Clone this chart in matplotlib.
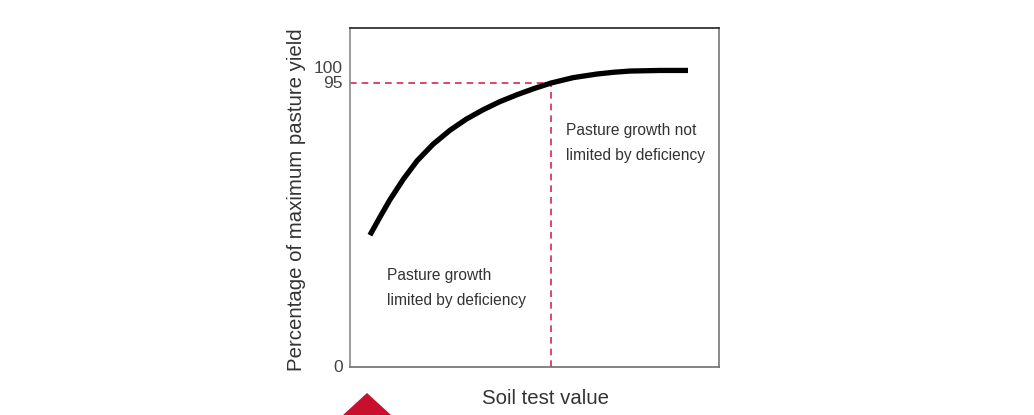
import matplotlib.pyplot as plt
import matplotlib.patches as patches

plt.rcParams['font.family'] = ['Liberation Sans', 'DejaVu Sans']

# curve (x: arbitrary soil test units, y: % of max yield)
soil_x = [5.4, 8.0, 10.8, 14.5, 18.2, 22.5, 27.1, 31.5, 36.0, 40.5, 45.3, 50.0, 54.5, 60.5, 66.9, 71.5, 75.9, 84.0, 91.6]
yield_y = [44.1, 49.9, 55.9, 62.9, 69.0, 74.5, 79.2, 82.9, 86.0, 88.7, 91.1, 93.2, 95.0, 96.8, 98.0, 98.6, 99.0, 99.2, 99.2]
threshold_x = 54.5
threshold_y = 95
ytick_vals = [0, 95, 100]
ytick_labels = ['0', '95', '100']

fig = plt.figure(figsize=(10.34, 4.15), dpi=100)
W, H = 1034, 415
ax = fig.add_axes([350 / W, 1 - 367 / H, (719 - 350) / W, (367 - 28) / H])
ax.set_xlim(0, 100)
ax.set_ylim(0, 113.4)

red = '#d42a4c'
ax.plot([0, threshold_x], [threshold_y, threshold_y], color=red, lw=1.2, ls=(0, (4, 3)))
ax.plot([threshold_x, threshold_x], [0, threshold_y], color=red, lw=1.2, ls=(0, (4, 3)))
ax.plot(soil_x, yield_y, color='black', lw=3.8, solid_capstyle='butt', solid_joinstyle='round')

ax.set_xticks([])
ax.set_yticks([])
for v, lab in zip(ytick_vals, ytick_labels):
    ax.text(-2.0, v, lab, ha='right', va='center', fontsize=12.5, color='#444444',
            transform=ax.transData, clip_on=False)

ax.spines['left'].set_color('#8a8a8a')
ax.spines['bottom'].set_color('#6e6e6e')
ax.spines['right'].set_color('#777777')
ax.spines['top'].set_color('#222222')
for s in ax.spines.values():
    s.set_linewidth(1.2)

ax.text(58.5, 75.0, 'Pasture growth not\nlimited by deficiency', fontsize=11.2,
        color='#333333', va='center', ha='left', linespacing=1.8)
ax.text(10.0, 26.5, 'Pasture growth\nlimited by deficiency', fontsize=11.2,
        color='#333333', va='center', ha='left', linespacing=1.8)

fig.text(546 / W, 1 - 398 / H, 'Soil test value', fontsize=14.7, color='#333333',
         ha='center', va='center')
fig.text(297 / W, 1 - 200 / H, 'Percentage of maximum pasture yield', fontsize=14.7,
         color='#333333', ha='center', va='center', rotation=90)

# red marker triangle at the bottom left
fig.patches.append(patches.Polygon([[343 / W, 0], [391 / W, 0], [367 / W, 1 - 393 / H]],
                                   closed=True, transform=fig.transFigure,
                                   facecolor='#c8102e', edgecolor='none'))

fig.savefig('out.png', dpi=100)
